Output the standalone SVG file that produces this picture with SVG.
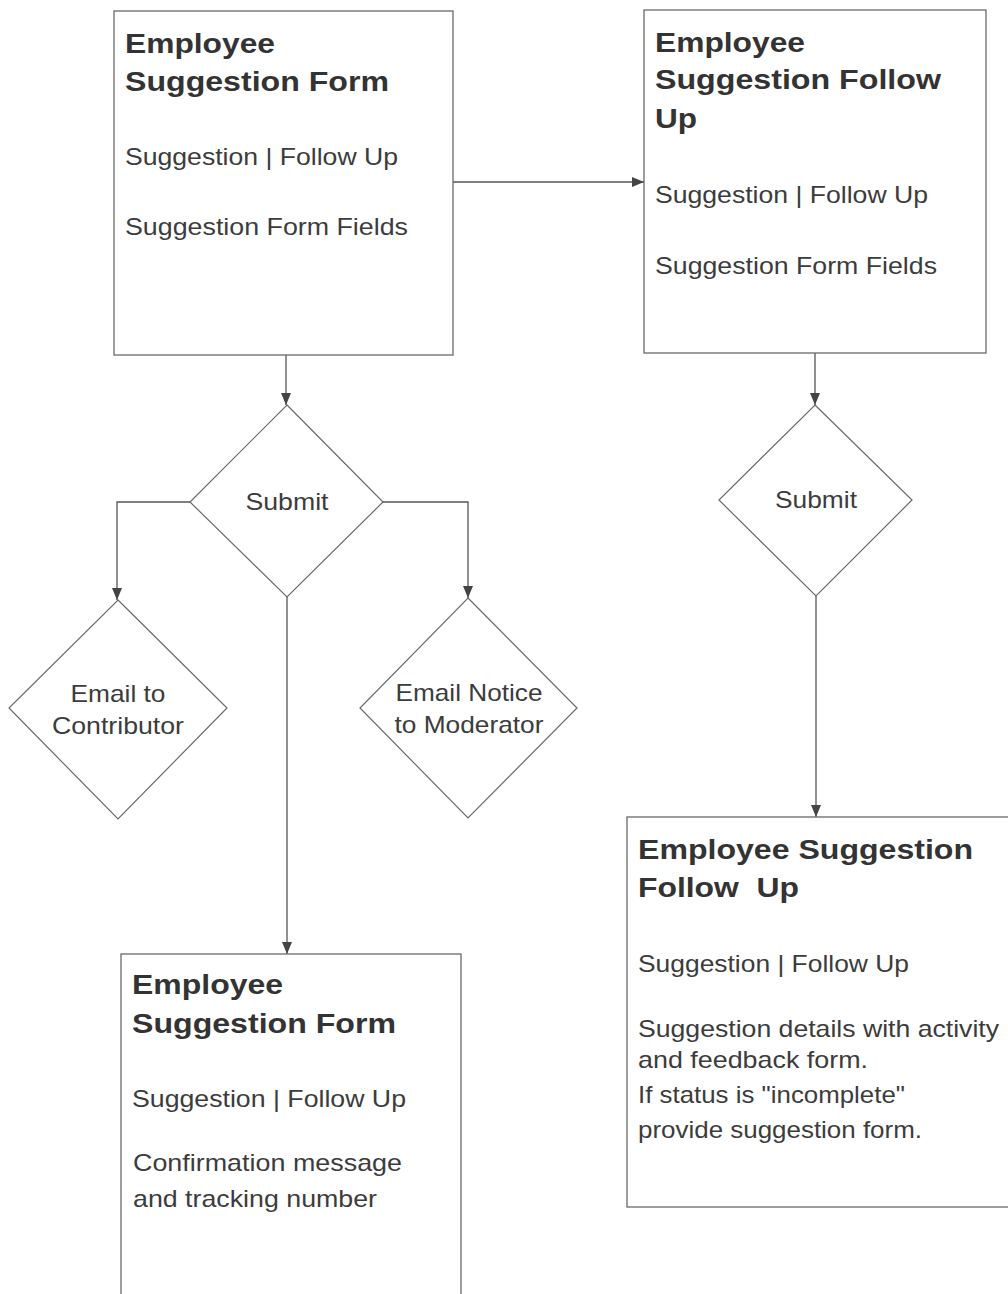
<svg xmlns="http://www.w3.org/2000/svg" width="1008" height="1294" viewBox="0 0 1008 1294">
<style>
  .box { fill: #ffffff; stroke: #6a6a6a; stroke-width: 1.3; }
  .dia { fill: #ffffff; stroke: #6a6a6a; stroke-width: 1.2; }
  .title { font-family: "Liberation Sans", Arial, sans-serif; font-weight: bold; font-size: 28px; fill: #333333; }
  .txt { font-family: "Liberation Sans", Arial, sans-serif; font-size: 24px; fill: #3c3c3c; }
  .dtxt { font-family: "Liberation Sans", Arial, sans-serif; font-size: 24px; fill: #3c3c3c; text-anchor: middle; }
  .conn { fill: none; stroke: #555555; stroke-width: 1.3; }
</style>
<defs>
  <marker id="arrow" viewBox="0 0 12 12" refX="12" refY="6" markerWidth="12" markerHeight="12" markerUnits="userSpaceOnUse" orient="auto">
    <path d="M0,1 L12,6 L0,11 Z" fill="#444444"/>
  </marker>
</defs>
<rect width="1008" height="1294" fill="#ffffff"/>

<g id="connectors">
  <path class="conn" d="M453,182 H644" marker-end="url(#arrow)"/>
  <path class="conn" d="M286,355 V405" marker-end="url(#arrow)"/>
  <path class="conn" d="M190,502 H117 V600" marker-end="url(#arrow)"/>
  <path class="conn" d="M383,502 H468 V598" marker-end="url(#arrow)"/>
  <path class="conn" d="M287,597 V954" marker-end="url(#arrow)"/>
  <path class="conn" d="M815,353 V405" marker-end="url(#arrow)"/>
  <path class="conn" d="M816,596 V817" marker-end="url(#arrow)"/>
</g>

<g id="node-form1">
  <rect class="box" x="114" y="11" width="339" height="344"/>
  <text class="title" x="125" y="53" textLength="150" lengthAdjust="spacingAndGlyphs">Employee</text>
  <text class="title" x="125" y="91" textLength="264" lengthAdjust="spacingAndGlyphs">Suggestion Form</text>
  <text class="txt" x="125" y="165" textLength="273" lengthAdjust="spacingAndGlyphs">Suggestion | Follow Up</text>
  <text class="txt" x="125" y="235" textLength="283" lengthAdjust="spacingAndGlyphs">Suggestion Form Fields</text>
</g>

<g id="node-followup1">
  <rect class="box" x="644" y="10" width="342" height="343"/>
  <text class="title" x="655" y="52" textLength="150" lengthAdjust="spacingAndGlyphs">Employee</text>
  <text class="title" x="655" y="89" textLength="286" lengthAdjust="spacingAndGlyphs">Suggestion Follow</text>
  <text class="title" x="655" y="128" textLength="42" lengthAdjust="spacingAndGlyphs">Up</text>
  <text class="txt" x="655" y="203" textLength="273" lengthAdjust="spacingAndGlyphs">Suggestion | Follow Up</text>
  <text class="txt" x="655" y="274" textLength="282" lengthAdjust="spacingAndGlyphs">Suggestion Form Fields</text>
</g>

<g id="node-submit1">
  <polygon class="dia" points="287,405 383,502 287,597 190,502"/>
  <text class="dtxt" x="287" y="510" textLength="83" lengthAdjust="spacingAndGlyphs">Submit</text>
</g>

<g id="node-email-contributor">
  <polygon class="dia" points="118,600 227,708 118,819 9,708"/>
  <text class="dtxt" x="118" y="702" textLength="95" lengthAdjust="spacingAndGlyphs">Email to</text>
  <text class="dtxt" x="118" y="734" textLength="132" lengthAdjust="spacingAndGlyphs">Contributor</text>
</g>

<g id="node-email-moderator">
  <polygon class="dia" points="468,598 577,708 468,818 360,708"/>
  <text class="dtxt" x="469" y="701" textLength="147" lengthAdjust="spacingAndGlyphs">Email Notice</text>
  <text class="dtxt" x="469" y="733" textLength="149" lengthAdjust="spacingAndGlyphs">to Moderator</text>
</g>

<g id="node-submit2">
  <polygon class="dia" points="815,405 912,500 816,596 719,500"/>
  <text class="dtxt" x="816" y="508" textLength="82" lengthAdjust="spacingAndGlyphs">Submit</text>
</g>

<g id="node-form2">
  <rect class="box" x="121" y="954" width="340" height="344"/>
  <text class="title" x="132" y="994" textLength="151" lengthAdjust="spacingAndGlyphs">Employee</text>
  <text class="title" x="132" y="1033" textLength="264" lengthAdjust="spacingAndGlyphs">Suggestion Form</text>
  <text class="txt" x="132" y="1107" textLength="274" lengthAdjust="spacingAndGlyphs">Suggestion | Follow Up</text>
  <text class="txt" x="133" y="1171" textLength="269" lengthAdjust="spacingAndGlyphs">Confirmation message</text>
  <text class="txt" x="133" y="1207" textLength="244" lengthAdjust="spacingAndGlyphs">and tracking number</text>
</g>

<g id="node-followup2">
  <rect class="box" x="627" y="817" width="384" height="390"/>
  <text class="title" x="638" y="859" textLength="335" lengthAdjust="spacingAndGlyphs">Employee Suggestion</text>
  <text class="title" x="638" y="897" textLength="161" lengthAdjust="spacingAndGlyphs" xml:space="preserve">Follow  Up</text>
  <text class="txt" x="638" y="972" textLength="271" lengthAdjust="spacingAndGlyphs">Suggestion | Follow Up</text>
  <text class="txt" x="638" y="1037" textLength="361" lengthAdjust="spacingAndGlyphs">Suggestion details with activity</text>
  <text class="txt" x="638" y="1068" textLength="230" lengthAdjust="spacingAndGlyphs">and feedback form.</text>
  <text class="txt" x="638" y="1103" textLength="267" lengthAdjust="spacingAndGlyphs">If status is "incomplete"</text>
  <text class="txt" x="638" y="1138" textLength="284" lengthAdjust="spacingAndGlyphs">provide suggestion form.</text>
</g>
</svg>
